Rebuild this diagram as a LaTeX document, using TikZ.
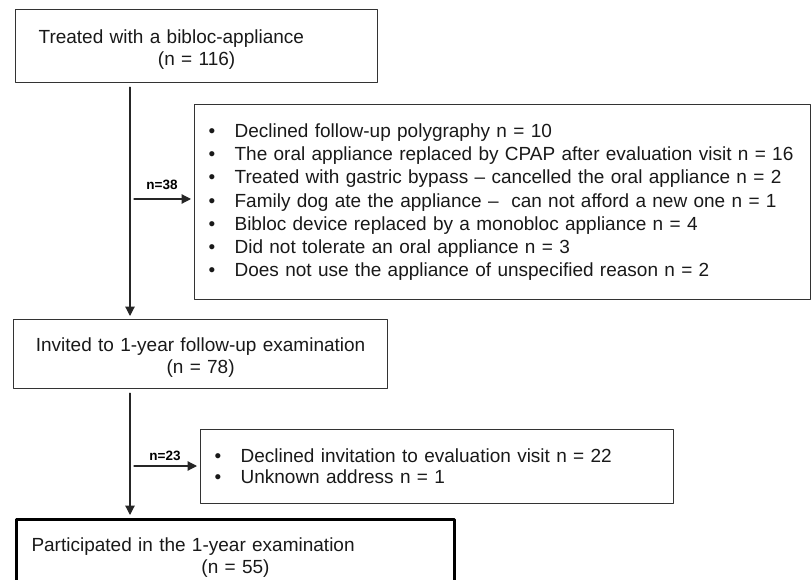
\documentclass[tikz,border=0pt]{standalone}
\usepackage{fontspec}
\setmainfont{Liberation Sans}
\usetikzlibrary{arrows.meta}

\tikzset{
  box/.style={draw=black!80, line width=1.2pt, inner xsep=0pt, inner ysep=0pt,
    anchor=north west, align=center, text=black!90,
    font=\fontsize{19}{22}\selectfont},
  stage/.style={box, execute at begin node={\rule{0pt}{21pt}}},
  listbox/.style={box, align=left, inner xsep=14pt},
  flow/.style={-{Triangle[length=9.5pt,width=9.5pt]}, line width=1.2pt,
    draw=black!85, shorten <=4pt, shorten >=3pt},
  count/.style={font=\fontsize{13.5}{16}\selectfont\bfseries, inner sep=0pt},
}
\newcommand{\itm}{\makebox[26pt][l]{\textbullet}}

\begin{document}
\begin{tikzpicture}[x=1pt, y=-1pt, line cap=round, line join=round]
  \useasboundingbox (0,0) rectangle (811,580);

  % Main boxes
  \node[stage, text width=362pt, minimum height=73pt] (treated) at (15,9)
    {\makebox[316pt][l]{Treated with a bibloc-appliance}\\(n = 116)};
  \node[stage, text width=374pt, minimum height=69pt] (invited) at (13,319)
    {Invited to 1-year follow-up examination\\(n = 78)};
  \node[stage, draw=black, line width=3pt, text width=438pt, minimum height=69pt] (participated) at (15,518)
    {\makebox[408pt][l]{Participated in the 1-year examination}\\(n = 55)};

  % Exclusion boxes
  \node[listbox, text width=588pt, minimum height=195pt,
        font=\fontsize{19}{23.3}\selectfont] (excluded) at (194,104)
    {\itm Declined follow-up polygraphy n = 10\\
     \itm The oral appliance replaced by CPAP after evaluation visit n = 16\\
     \itm Treated with gastric bypass -- cancelled the oral appliance n = 2\\
     \itm Family dog ate the appliance --\ \ can not afford a new one n = 1\\
     \itm Bibloc device replaced by a monobloc appliance n = 4\\
     \itm Did not tolerate an oral appliance n = 3\\
     \itm Does not use the appliance of unspecified reason n = 2};
  \node[listbox, text width=445pt, minimum height=74pt,
        font=\fontsize{19}{21}\selectfont] (dropped) at (200,429)
    {\itm Declined invitation to evaluation visit n = 22\\
     \itm Unknown address n = 1};

  % Flow
  \coordinate (fork1) at (130,199);
  \coordinate (fork2) at (130,466);
  \draw[flow] (fork1 |- treated.south) -- (fork1 |- invited.north);
  \draw[flow] (fork1) -- (fork1 -| excluded.west)
    node[count, midway, above=9pt] (lost1) {n=38};
  \draw[flow] (fork2 |- invited.south) -- (fork2 |- participated.north);
  \draw[flow] (fork2) -- (fork2 -| dropped.west)
    node[count, midway, above=5pt] (lost2) {n=23};
\end{tikzpicture}
\end{document}
